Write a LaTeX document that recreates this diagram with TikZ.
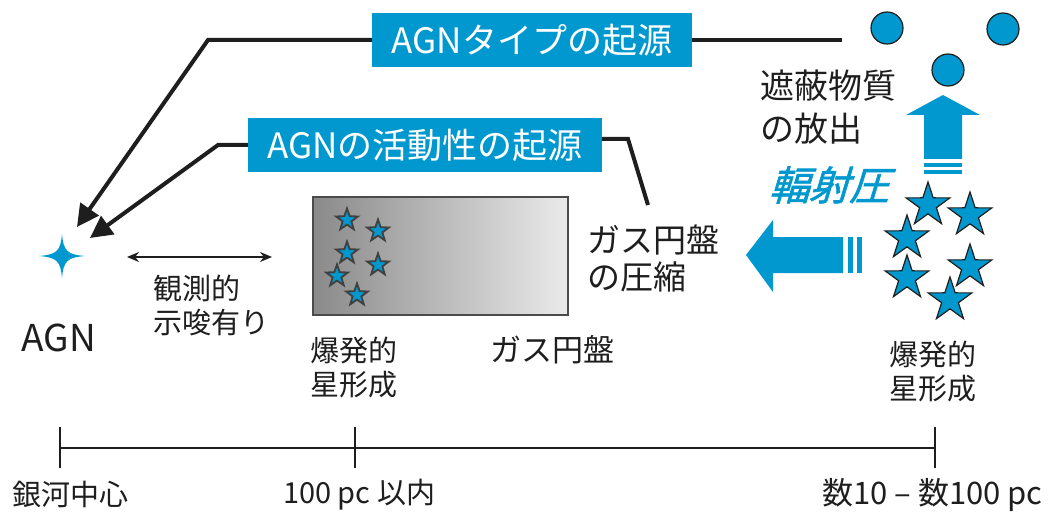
\documentclass[tikz,border=0pt]{standalone}
\usepackage{fontspec}
\setmainfont{Noto Sans CJK JP}
\newfontfamily\radfont{Noto Sans CJK JP}[FakeSlant=0.3,FakeBold=1.5]
\usetikzlibrary{arrows.meta,shapes.geometric,calc}
\definecolor{agnblue}{RGB}{0,152,206}
\definecolor{ink}{RGB}{30,30,30}
\begin{document}
\begin{tikzpicture}[x=1pt,y=-1pt,
  lbl/.style={inner sep=0pt, text=ink, align=left},
  fa/.style={font=\fontsize{29pt}{34pt}\selectfont},
  bluebox/.style={fill=agnblue, text=white, inner sep=0pt, minimum height=54pt,
    font=\fontsize{35pt}{40pt}\selectfont},
  conn/.style={draw=ink, line width=4pt, line join=miter,
    -{Triangle[length=22pt,width=22pt]}},
  plainline/.style={draw=ink, line width=4pt, line join=miter},
  bigstar/.style={star, star points=5, star point ratio=2.6, minimum size=46pt,
    inner sep=0pt, fill=agnblue, draw=ink, line width=1.2pt},
  smallstar/.style={star, star points=5, star point ratio=2.5, minimum size=23pt,
    inner sep=0pt, fill=agnblue, draw=ink!85, line width=1.8pt},
  blob/.style={circle, minimum size=32pt, inner sep=0pt, fill=agnblue, draw=ink,
    line width=1.2pt},
  axisline/.style={draw=ink, line width=1.6pt},
]
\useasboundingbox (0,0) rectangle (1061,516);

% blue label boxes
\node[bluebox, minimum width=320pt] (t1) at (532,40) {AGNタイプの起源};
\node[bluebox, minimum width=354pt] (t2) at (425,145) {AGNの活動性の起源};

% AGN sparkle
\node[inner sep=0pt, minimum size=44pt] (agn) at (62,256) {};
\begin{scope}[shift={(62,256)}]
\fill[agnblue] (23,0) .. controls (5,-1.5) and (1.5,-5) .. (0,-22)
  .. controls (-1.5,-5) and (-5,-1.5) .. (-23,0)
  .. controls (-5,1.5) and (-1.5,5) .. (0,22)
  .. controls (1.5,5) and (5,1.5) .. cycle;
\end{scope}
\node[lbl, font=\fontsize{37pt}{40pt}\selectfont] (agnlbl) at (59,338) {AGN};

% black connectors
\coordinate (c1) at (208,40);
\coordinate (tip1) at (77,227);
\coordinate (e1) at (842,40);
\draw[conn] (t1.west) -- (c1) -- (tip1);
\draw[plainline] (t1.east) -- (e1);
\coordinate (c2) at (218,145);
\coordinate (tip2) at (90,238);
\draw[conn] (t2.west) -- (c2) -- (tip2);
\coordinate (r0) at (602,139);
\coordinate (c3) at (628,139);
\coordinate (e2) at (648,205);
\draw[plainline] (r0) -- (c3) -- (e2);

% observational hint
\coordinate (h1) at (127,257);
\coordinate (h2) at (272,257);
\draw[ink, line width=1.5pt, {Stealth[length=12pt,width=10pt]}-{Stealth[length=12pt,width=10pt]}] (h1) -- (h2);
\node[lbl, fa, anchor=west] (hint) at (153,305) {観測的\\示唆有り};

% gas disk
\node[draw=ink!80, line width=1.2pt, minimum width=255pt, minimum height=118pt,
  inner sep=0pt, left color=black!46, middle color=black!20, right color=black!8] (disk) at (440.5,256) {};
\node[smallstar] (s1) at (347,220) {};
\node[smallstar] (s2) at (378,231) {};
\node[smallstar] (s3) at (347,253) {};
\node[smallstar] (s4) at (378,265) {};
\node[smallstar] (s5) at (337,276) {};
\node[smallstar] (s6) at (357,295) {};

\node[lbl, fa, anchor=west] (sb1) at (310,368) {爆発的\\星形成};
\node[lbl, font=\fontsize{31pt}{36pt}\selectfont, anchor=west] (gd) at (490,350) {ガス円盤};
\node[lbl, font=\fontsize{33pt}{37pt}\selectfont, anchor=west] (comp) at (587,258) {ガス円盤\\の圧縮};

% radiation pressure
\node[inner sep=0pt, text=agnblue, font=\fontsize{40pt}{44pt}\radfont] (rad) at (829,185) {輻射圧};
\fill[agnblue] (746,255) -- (773,220) -- (773,237) -- (843,237) -- (843,273)
  -- (773,273) -- (773,292) -- cycle;
\fill[agnblue] (848,237) rectangle (853,273);
\fill[agnblue] (857,237) rectangle (862,273);

\fill[agnblue] (943,95) -- (980,115) -- (962,115) -- (962,159) -- (924,159)
  -- (924,115) -- (906,115) -- cycle;
\fill[agnblue] (924,163) rectangle (962,167);
\fill[agnblue] (924,170) rectangle (962,174);

\node[lbl, font=\fontsize{34pt}{43pt}\selectfont, anchor=west] (obs) at (760,107) {遮蔽物質\\の放出};

% obscuring clouds
\node[blob] (b1) at (887,28) {};
\node[blob] (b2) at (1003,29) {};
\node[blob] (b3) at (948,70) {};

% starburst cluster
\node[bigstar] (S1) at (928,205) {};
\node[bigstar] (S2) at (970,215) {};
\node[bigstar] (S3) at (907,238) {};
\node[bigstar] (S4) at (907,278) {};
\node[bigstar] (S5) at (970,267) {};
\node[bigstar] (S6) at (950,300) {};
\node[lbl, fa, align=center] (sb2) at (933,372) {爆発的\\星形成};

% distance axis
\coordinate (a0) at (60,448);
\coordinate (a1) at (355,448);
\coordinate (a2) at (935,448);
\draw[axisline] (a0) -- (a2);
\draw[axisline] (60,427) -- (60,468);
\draw[axisline] (355,427) -- (355,468);
\draw[axisline] (935,427) -- (935,468);
\node[lbl, fa, anchor=west] (d0) at (12,495) {銀河中心};
\node[lbl, fa, anchor=west] (d1) at (283,495) {100 pc 以内};
\node[lbl, font=\fontsize{31pt}{34pt}\selectfont, anchor=east] (d2) at (1043,495) {数10 – 数100 pc};
\end{tikzpicture}
\end{document}
